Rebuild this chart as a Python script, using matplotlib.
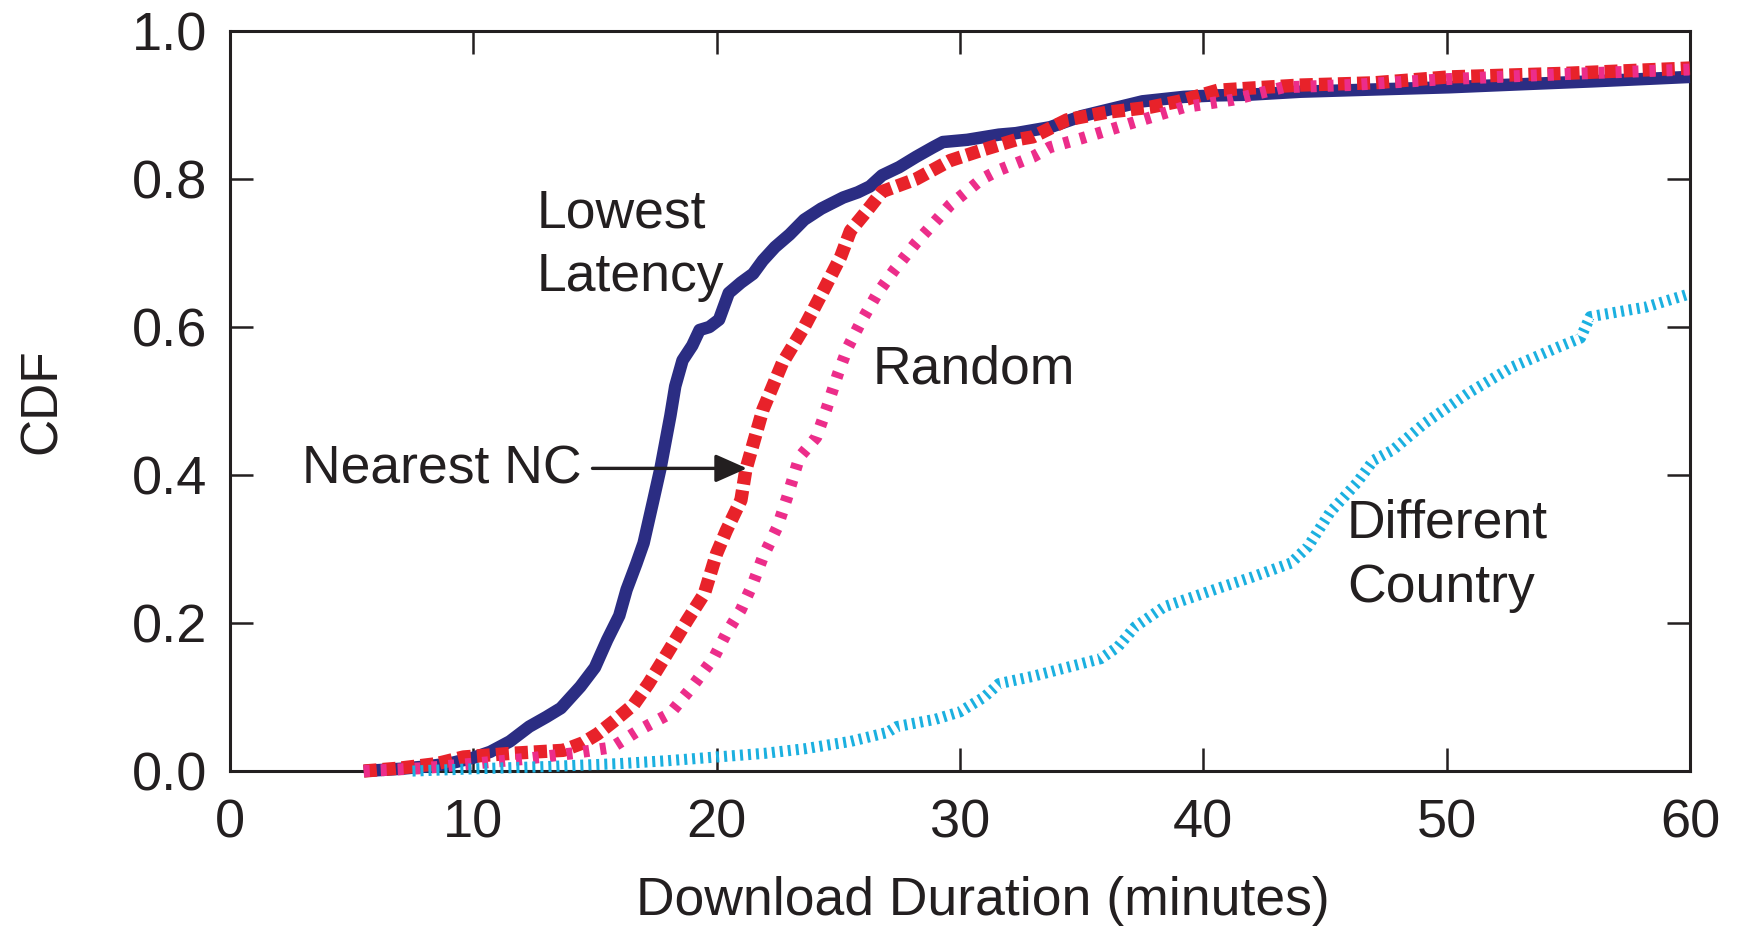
import matplotlib
matplotlib.use("Agg")
import matplotlib.pyplot as plt

# CDF curves of download duration (minutes) for each peer-selection strategy
lowest_x = [5.5, 7, 8, 9, 10, 10.7, 11.5, 12.3, 13.0, 13.6, 14.4, 15.0, 15.5, 16.0, 16.3,
            16.7, 17.0, 17.4, 17.7, 18.1, 18.3, 18.6, 19.0, 19.3, 19.7, 20.1, 20.5, 21.0,
            21.5, 21.9, 22.4, 23.0, 23.6, 24.3, 25.2, 25.8, 26.3, 26.8, 27.5, 28.2, 28.9,
            29.3, 30.3, 31.6, 32.3, 33.7, 35.0, 36.5, 37.5, 39.2, 40.5, 41.9, 44.0, 47.0,
            50.1, 53.0, 56.0, 60.0]
lowest_y = [0.0, 0.003, 0.006, 0.01, 0.018, 0.026, 0.04, 0.06, 0.073, 0.085, 0.114, 0.14,
            0.177, 0.21, 0.245, 0.28, 0.308, 0.366, 0.41, 0.48, 0.52, 0.555, 0.575, 0.596,
            0.6, 0.61, 0.646, 0.66, 0.672, 0.69, 0.708, 0.725, 0.745, 0.76, 0.775, 0.782,
            0.79, 0.805, 0.816, 0.83, 0.843, 0.85, 0.853, 0.86, 0.862, 0.87, 0.885, 0.897,
            0.905, 0.911, 0.913, 0.914, 0.918, 0.921, 0.924, 0.928, 0.932, 0.938]

nearest_x = [5.5, 7, 8.5, 9.6, 11.6, 13.7, 14.5, 15.1, 15.8, 16.6, 17.2, 17.8, 18.8, 19.5,
             20.0, 20.4, 21.0, 21.2, 21.9, 22.7, 23.6, 24.4, 25.1, 25.5, 26.2, 26.8, 28.2,
             29.6, 30.9, 32.3, 33.0, 34.4, 36.0, 37.8, 39.0, 40.6, 42.0, 44.0, 47.0, 50.1,
             55.0, 60.0]
nearest_y = [0.0, 0.004, 0.01, 0.019, 0.024, 0.028, 0.038, 0.05, 0.068, 0.09, 0.118, 0.15,
             0.204, 0.24, 0.294, 0.325, 0.366, 0.407, 0.488, 0.551, 0.6, 0.65, 0.695, 0.73,
             0.758, 0.783, 0.8, 0.825, 0.839, 0.853, 0.857, 0.88, 0.89, 0.897, 0.905, 0.92,
             0.923, 0.927, 0.93, 0.938, 0.943, 0.95]

random_x = [5.5, 8, 10, 12, 14.1, 15.7, 16.8, 18.1, 19.0, 19.9, 20.4, 21.0, 21.5, 21.9,
            22.5, 22.9, 23.4, 24.1, 24.5, 25.0, 25.4, 25.9, 26.6, 27.3, 28.2, 29.6, 30.9,
            31.6, 33.0, 33.7, 35.0, 36.5, 38.0, 39.2, 41.2, 43.3, 46.0, 50.0, 55.0, 60.0]
random_y = [0.0, 0.004, 0.01, 0.016, 0.024, 0.032, 0.055, 0.078, 0.114, 0.154, 0.186, 0.218,
            0.254, 0.289, 0.33, 0.37, 0.424, 0.451, 0.488, 0.538, 0.573, 0.605, 0.645, 0.677,
            0.714, 0.765, 0.8, 0.812, 0.83, 0.843, 0.855, 0.87, 0.885, 0.897, 0.907, 0.924,
            0.927, 0.935, 0.942, 0.948]

country_x = [7.5, 10, 13, 16, 18, 20, 22, 23.6, 25.5, 27, 27.4, 29, 30, 31, 31.6, 33, 35.8,
             36.5, 37.2, 38.4, 40.8, 42, 43.6, 44.3, 45.2, 46.3, 47, 47.8, 49.1, 50.9, 52.7,
             54.6, 55.5, 55.9, 58.2, 60]
country_y = [0.0, 0.003, 0.006, 0.01, 0.014, 0.019, 0.024, 0.03, 0.04, 0.052, 0.06, 0.07,
             0.08, 0.1, 0.118, 0.128, 0.152, 0.168, 0.195, 0.222, 0.249, 0.262, 0.281, 0.303,
             0.349, 0.389, 0.42, 0.434, 0.47, 0.511, 0.546, 0.573, 0.585, 0.614, 0.627, 0.645]

x_ticks = [0, 10, 20, 30, 40, 50, 60]
y_ticks = [0.0, 0.2, 0.4, 0.6, 0.8, 1.0]
y_tick_labels = ["0.0", "0.2", "0.4", "0.6", "0.8", "1.0"]

INK = "#231f20"
plt.rcParams["font.family"] = ["Liberation Sans", "DejaVu Sans"]

fig = plt.figure(figsize=(17.42, 9.32), dpi=100)
ax = fig.add_axes([0.1320, 0.1727, 0.8381, 0.7940])

ax.plot(lowest_x, lowest_y, color="#2b2d83", lw=9.0, solid_capstyle="butt",
        solid_joinstyle="round", clip_on=False, zorder=3)
ax.plot(nearest_x, nearest_y, color="#e8222a", lw=9.6, linestyle=(0, (0.98, 0.45)),
        dash_capstyle="butt", clip_on=False, zorder=4)
ax.plot(random_x, random_y, color="#ec2d8a", lw=8.6, linestyle=(0, (0.5, 0.92)),
        dash_capstyle="butt", clip_on=False, zorder=5)
ax.plot(country_x, country_y, color="#1bb0e0", lw=8.0, linestyle=(0, (0.27, 0.45)),
        dash_capstyle="butt", clip_on=False, zorder=6)

ax.set_xlim(0, 60)
ax.set_ylim(0, 1.0)
ax.set_xticks(x_ticks)
ax.set_yticks(y_ticks)
ax.set_yticklabels(y_tick_labels)
ax.tick_params(axis="both", which="both", direction="in", length=16.5, width=1.8,
               colors=INK, labelsize=39, top=True, right=True)
ax.tick_params(axis="y", pad=16)
ax.tick_params(axis="x", pad=20)
for sp in ax.spines.values():
    sp.set_linewidth(2.2)
    sp.set_color(INK)

ax.set_xlabel("Download Duration (minutes)", fontsize=38.5, color=INK)
ax.xaxis.set_label_coords(0.516, -0.142)
ax.set_ylabel("CDF", fontsize=37, color=INK)
ax.yaxis.set_label_coords(-0.112, 0.5)

fs = 38.5
ax.text(12.6, 0.734, "Lowest", fontsize=fs, color=INK, ha="left", va="baseline")
ax.text(12.6, 0.649, "Latency", fontsize=fs, color=INK, ha="left", va="baseline")
ax.text(26.4, 0.524, "Random", fontsize=fs, color=INK, ha="left", va="baseline")
ax.text(45.9, 0.315, "Different", fontsize=fs, color=INK, ha="left", va="baseline")
ax.text(45.9, 0.228, "Country", fontsize=fs, color=INK, ha="left", va="baseline")
ax.text(14.47, 0.389, "Nearest NC", fontsize=fs, color=INK, ha="right", va="baseline")
ax.annotate("", xy=(21.25, 0.409), xytext=(14.9, 0.409),
            arrowprops=dict(arrowstyle="-|>,head_length=0.97,head_width=0.43",
                            mutation_scale=20, lw=2.4, color=INK,
                            shrinkA=0, shrinkB=0),
            zorder=7)

fig.savefig("out.png", dpi=100)
